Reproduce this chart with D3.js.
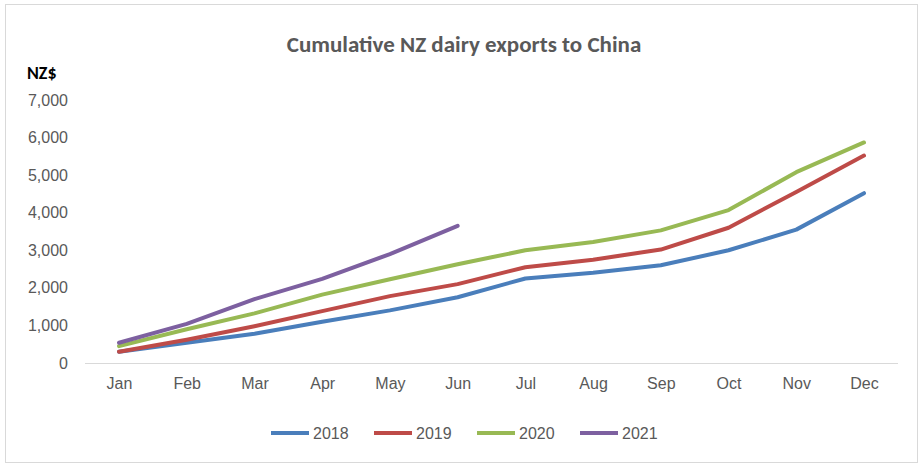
<!DOCTYPE html>
<html><head><meta charset="utf-8">
<script src="https://cdn.jsdelivr.net/npm/d3@7"></script>
<style>body{margin:0;background:#fff}text{font-family:"Liberation Sans",Arial,sans-serif}.ttl{font-family:Calibri,Carlito,Lato,sans-serif}</style>
</head><body>
<svg id="c" width="924" height="469"></svg>
<script>
const months = ["Jan","Feb","Mar","Apr","May","Jun","Jul","Aug","Sep","Oct","Nov","Dec"];
const yTicks = [0,1000,2000,3000,4000,5000,6000,7000];
const s2018 = [300,540,780,1100,1400,1750,2250,2400,2600,3000,3550,4520];
const s2019 = [300,620,980,1380,1780,2100,2550,2750,3020,3600,4550,5520];
const s2020 = [450,900,1320,1820,2230,2630,3000,3220,3530,4070,5080,5870];
const s2021 = [540,1040,1700,2240,2900,3650];
const series = [
  {name:"2018", values:s2018, color:"#4a7ebb"},
  {name:"2019", values:s2019, color:"#be4b48"},
  {name:"2020", values:s2020, color:"#98b954"},
  {name:"2021", values:s2021, color:"#7d60a0"}
];

const svg = d3.select("#c");
const grey = "#595959";
svg.append("rect").attr("x",5.5).attr("y",4.5).attr("width",912).attr("height",458)
  .attr("fill","#fff").attr("stroke","#d9d9d9");

const x = d3.scalePoint().domain(months).range([119,864]);
const y = d3.scaleLinear().domain([0,7000]).range([363,100]);

svg.append("text").attr("class","ttl").attr("x",464).attr("y",52).attr("text-anchor","middle")
  .attr("font-size",23).attr("font-weight","bold").attr("fill",grey)
  .text("Cumulative NZ dairy exports to China");
svg.append("text").attr("class","ttl").attr("x",27).attr("y",79).attr("font-size",18).attr("font-weight","bold")
  .attr("fill","#000").text("NZ$");

const ya = svg.append("g").attr("transform","translate(68,0)")
  .call(d3.axisLeft(y).tickValues(yTicks).tickFormat(d3.format(",")).tickSize(0).tickPadding(0));
ya.select(".domain").remove();
ya.selectAll("text").attr("font-size",16).attr("fill",grey);

const xa = svg.append("g").attr("transform","translate(0,363)")
  .call(d3.axisBottom(x).tickSize(0).tickPadding(15));
xa.select(".domain").attr("d","M85,0.5H898").attr("stroke","#d9d9d9");
xa.selectAll("text").attr("font-size",16).attr("fill",grey);

const line = d3.line().x((d,i)=>x(months[i])).y(d=>y(d));
svg.selectAll(".s").data(series).join("path")
  .attr("fill","none").attr("stroke",d=>d.color).attr("stroke-width",4)
  .attr("stroke-linejoin","round").attr("stroke-linecap","round")
  .attr("d",d=>line(d.values));

const lg = svg.selectAll(".lg").data(series).join("g")
  .attr("transform",(d,i)=>`translate(${271+i*103},433)`);
lg.append("line").attr("x1",0).attr("x2",38).attr("stroke",d=>d.color).attr("stroke-width",4);
lg.append("text").attr("x",42).attr("y",6).attr("font-size",16).attr("fill",grey).text(d=>d.name);
</script>
</body></html>
